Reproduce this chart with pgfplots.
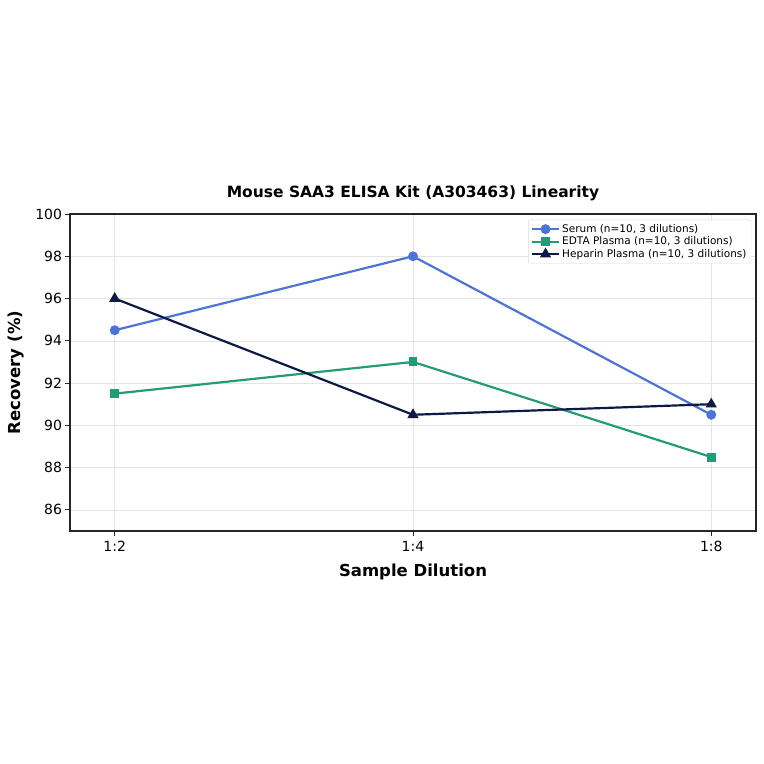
\documentclass[border=0pt]{standalone}
\usepackage{pgfplots}
\pgfplotsset{compat=1.18}
\usepackage{fontspec}
\setmainfont{DejaVu Sans}
\definecolor{serum}{RGB}{77, 115, 214}
\definecolor{edta}{RGB}{35, 155, 115}
\definecolor{heparin}{RGB}{12, 26, 68}
\definecolor{gridc}{RGB}{228, 228, 228}

\begin{document}
\begin{tikzpicture}
\path[use as bounding box] (0,0) rectangle (764bp,-764bp);
\begin{axis}[
    at={(70bp,-531bp)}, anchor=south west,
    scale only axis,
    width=686bp, height=317bp,
    xmin=-0.15, xmax=2.15,
    ymin=85, ymax=100,
    xtick={0,1,2},
    xticklabels={1:2, 1:4, 1:8},
    ytick={86,88,...,100},
    tick align=outside,
    tick pos=left,
    major tick length=4.5bp,
    /pgf/number format/assume math mode=true,
    ticklabel style={font=\fontsize{14bp}{17bp}\selectfont},
    xticklabel style={yshift=-2bp},
    xmajorgrids, ymajorgrids,
    grid style={gridc, line width=0.6pt},
    axis line style={black!85, line width=1.1pt},
    every tick/.style={black!85, line width=0.9pt},
    xlabel={\textbf{Sample Dilution}},
    ylabel={\textbf{Recovery (\%)}},
    label style={font=\fontsize{16.5bp}{19bp}\selectfont},
    xlabel style={yshift=-6bp},
    ylabel style={yshift=4bp},
    title={\textbf{Mouse SAA3 ELISA Kit (A303463) Linearity}},
    title style={font=\fontsize{15.5bp}{18bp}\selectfont, yshift=4bp},
    legend style={at={(0.993,0.982)}, anchor=north east,
        font=\fontsize{10.5bp}{12.5bp}\selectfont,
        draw=black!15, rounded corners=2pt, inner sep=2.5bp,
        row sep=-1bp},
    legend cell align=left,
    legend image code/.code={
        \draw[mark repeat=2, mark phase=2] plot coordinates {(0cm,0cm) (0.48cm,0cm) (0.96cm,0cm)};},
]
\addplot[serum, line width=2.2pt, mark=*, mark size=3.8bp] coordinates {
    (0,94.5) (1,98) (2,90.5)};
\addplot[edta, line width=2.2pt, mark=square*, mark size=3.4bp] coordinates {
    (0,91.5) (1,93) (2,88.5)};
\addplot[heparin, line width=2.2pt, mark=triangle*, mark size=4.3bp] coordinates {
    (0,96) (1,90.5) (2,91)};
\legend{{Serum (n=10, 3 dilutions)}, {EDTA Plasma (n=10, 3 dilutions)}, {Heparin Plasma (n=10, 3 dilutions)}}
\end{axis}
\end{tikzpicture}
\end{document}
